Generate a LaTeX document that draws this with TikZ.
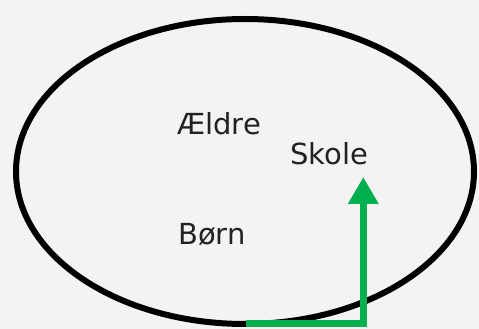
\documentclass[tikz,border=0pt]{standalone}
\usepackage{fontspec}
\setmainfont{DejaVu Sans}
\usetikzlibrary{arrows.meta}
\definecolor{bg}{HTML}{F4F3F1}
\definecolor{arrgreen}{HTML}{00B050}
\definecolor{txt}{HTML}{222222}
\tikzset{
  lbl/.style={anchor=base west, inner sep=0pt, text=txt, font=\fontsize{29}{35}\selectfont},
  ring/.style={draw=black, line width=6pt},
  flow/.style={draw=arrgreen, line width=7.5pt, line join=miter, -{Triangle[length=27pt,width=29pt]}}
}
\begin{document}
\begin{tikzpicture}[x=1pt,y=1pt]
  \fill[bg] (0,0) rectangle (479,329);
  \useasboundingbox (0,0) rectangle (479,329);
  \draw[ring] (245,157.5) ellipse [x radius=229, y radius=152.5];
  \node[lbl] (aeldre) at (177,194.7) {Ældre};
  \node[lbl] (skole) at (290,164) {Skole};
  \node[lbl] (born) at (178,84.7) {Børn};
  \coordinate (start) at (246,5.5);
  \coordinate (tip) at (363.3,152);
  \draw[flow] (start) -| (tip);
\end{tikzpicture}
\end{document}
